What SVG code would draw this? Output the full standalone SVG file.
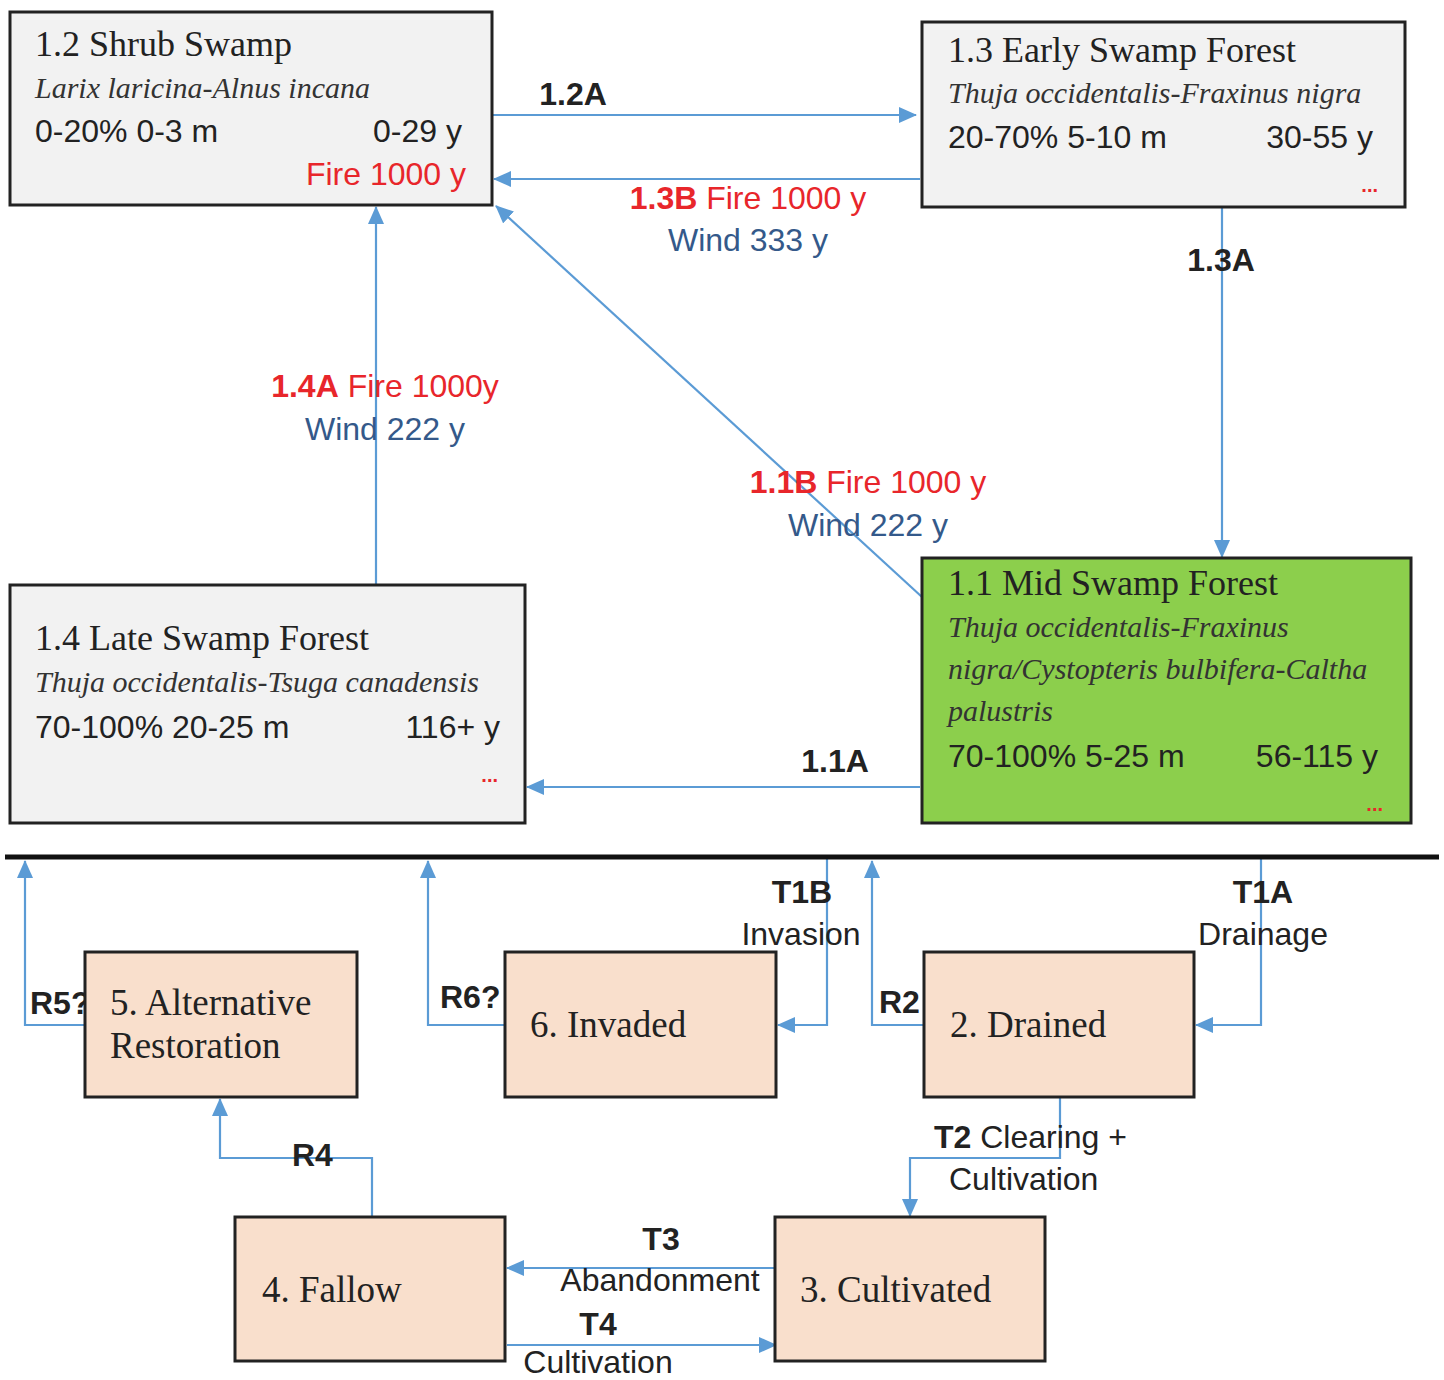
<svg xmlns="http://www.w3.org/2000/svg" width="1444" height="1380" viewBox="0 0 1444 1380">
<defs>
<marker id="ah" markerUnits="userSpaceOnUse" markerWidth="18" markerHeight="16" refX="17" refY="8" orient="auto">
<path d="M0,0 L18,8 L0,16 Z" fill="#5b9bd5"/>
</marker>
</defs>
<style>
.box{stroke:#222;stroke-width:3}
.gray{fill:#f2f2f2}
.green{fill:#8ccf4c}
.peach{fill:#f9dfcc}
.ttl{font-family:"Liberation Serif","Times New Roman",serif;font-size:36px;fill:#222}
.ttlb{font-family:"Liberation Serif","Times New Roman",serif;font-size:37px;fill:#222}
.it{font-family:"Liberation Serif","Times New Roman",serif;font-style:italic;font-size:30px;fill:#333}
.num{font-family:"Liberation Sans",Arial,sans-serif;font-size:32px;fill:#222}
.lbl{font-family:"Liberation Sans",Arial,sans-serif;font-size:32px;fill:#222}
.b{font-weight:bold}
.red{fill:#e8262b}
.blue{fill:#34598a}
.dots{font-family:"Liberation Sans",Arial,sans-serif;font-size:20px;font-weight:bold;fill:#e8262b}
.con{fill:none;stroke:#5b9bd5;stroke-width:2.2}
</style>
<rect width="1444" height="1380" fill="#ffffff"/>

<g id="connectors">
<line class="con" x1="492" y1="115" x2="916" y2="115" marker-end="url(#ah)"/>
<line class="con" x1="920" y1="179" x2="494" y2="179" marker-end="url(#ah)"/>
<line class="con" x1="922" y1="597" x2="496" y2="206" marker-end="url(#ah)"/>
<line class="con" x1="376" y1="585" x2="376" y2="207" marker-end="url(#ah)"/>
<line class="con" x1="1222" y1="208" x2="1222" y2="557" marker-end="url(#ah)"/>
<line class="con" x1="920" y1="787" x2="527" y2="787" marker-end="url(#ah)"/>
<polyline class="con" points="85,1025 25,1025 25,861" marker-end="url(#ah)"/>
<polyline class="con" points="505,1025 428,1025 428,861" marker-end="url(#ah)"/>
<polyline class="con" points="827,859 827,1025 778,1025" marker-end="url(#ah)"/>
<polyline class="con" points="924,1025 872,1025 872,861" marker-end="url(#ah)"/>
<polyline class="con" points="1261,859 1261,1025 1196,1025" marker-end="url(#ah)"/>
<polyline class="con" points="1060,1098 1060,1158 910,1158 910,1216" marker-end="url(#ah)"/>
<polyline class="con" points="372,1217 372,1158 220,1158 220,1099" marker-end="url(#ah)"/>
<line class="con" x1="775" y1="1268" x2="507" y2="1268" marker-end="url(#ah)"/>
<line class="con" x1="507" y1="1345" x2="776" y2="1345" marker-end="url(#ah)"/>
</g>

<line id="separator" x1="5" y1="857" x2="1439" y2="857" stroke="#111" stroke-width="5"/>

<g id="labels">
<text class="lbl b" x="573" y="105" text-anchor="middle">1.2A</text>
<text class="lbl red" x="748" y="209" text-anchor="middle"><tspan class="b">1.3B</tspan> Fire 1000 y</text>
<text class="lbl blue" x="748" y="251" text-anchor="middle">Wind 333 y</text>
<text class="lbl b" x="1221" y="271" text-anchor="middle">1.3A</text>
<text class="lbl red" x="385" y="397" text-anchor="middle"><tspan class="b">1.4A</tspan> Fire 1000y</text>
<text class="lbl blue" x="385" y="440" text-anchor="middle">Wind 222 y</text>
<text class="lbl red" x="868" y="493" text-anchor="middle"><tspan class="b">1.1B</tspan> Fire 1000 y</text>
<text class="lbl blue" x="868" y="536" text-anchor="middle">Wind 222 y</text>
<text class="lbl b" x="835" y="772" text-anchor="middle">1.1A</text>
<text class="lbl b" x="802" y="903" text-anchor="middle">T1B</text>
<text class="lbl" x="801" y="945" text-anchor="middle">Invasion</text>
<text class="lbl b" x="1263" y="903" text-anchor="middle">T1A</text>
<text class="lbl" x="1263" y="945" text-anchor="middle">Drainage</text>
<text class="lbl b" x="30" y="1014">R5?</text>
<text class="lbl b" x="440" y="1008">R6?</text>
<text class="lbl b" x="879" y="1013">R2</text>
<text class="lbl b" x="292" y="1166">R4</text>
<text class="lbl" x="934" y="1148"><tspan class="b">T2</tspan> Clearing +</text>
<text class="lbl" x="949" y="1190">Cultivation</text>
<text class="lbl b" x="661" y="1250" text-anchor="middle">T3</text>
<text class="lbl" x="660" y="1291" text-anchor="middle">Abandonment</text>
<text class="lbl b" x="598" y="1335" text-anchor="middle">T4</text>
<text class="lbl" x="598" y="1373" text-anchor="middle">Cultivation</text>
</g>

<g id="n12">
<rect class="box gray" x="10" y="12" width="482" height="193"/>
<text class="ttl" x="35" y="56">1.2 Shrub Swamp</text>
<text class="it" x="35" y="98">Larix laricina-Alnus incana</text>
<text class="num" x="35" y="142">0-20% 0-3 m</text>
<text class="num" x="462" y="142" text-anchor="end">0-29 y</text>
<text class="num red" x="466" y="185" text-anchor="end">Fire 1000 y</text>
</g>

<g id="n13">
<rect class="box gray" x="922" y="22" width="483" height="185"/>
<text class="ttl" x="948" y="62">1.3 Early Swamp Forest</text>
<text class="it" x="948" y="103">Thuja occidentalis-Fraxinus nigra</text>
<text class="num" x="948" y="148">20-70% 5-10 m</text>
<text class="num" x="1373" y="148" text-anchor="end">30-55 y</text>
<text class="dots" x="1378" y="192" text-anchor="end">...</text>
</g>

<g id="n11">
<rect class="box green" x="922" y="558" width="489" height="265"/>
<text class="ttl" x="948" y="595">1.1 Mid Swamp Forest</text>
<text class="it" x="948" y="637">Thuja occidentalis-Fraxinus</text>
<text class="it" x="948" y="679">nigra/Cystopteris bulbifera-Caltha</text>
<text class="it" x="948" y="721">palustris</text>
<text class="num" x="948" y="767">70-100% 5-25 m</text>
<text class="num" x="1378" y="767" text-anchor="end">56-115 y</text>
<text class="dots" x="1383" y="811" text-anchor="end">...</text>
</g>

<g id="n14">
<rect class="box gray" x="10" y="585" width="515" height="238"/>
<text class="ttl" x="35" y="650">1.4 Late Swamp Forest</text>
<text class="it" x="35" y="692">Thuja occidentalis-Tsuga canadensis</text>
<text class="num" x="35" y="738">70-100% 20-25 m</text>
<text class="num" x="500" y="738" text-anchor="end">116+ y</text>
<text class="dots" x="498" y="782" text-anchor="end">...</text>
</g>

<g id="n5">
<rect class="box peach" x="85" y="952" width="272" height="145"/>
<text class="ttlb" x="110" y="1015">5. Alternative</text>
<text class="ttlb" x="110" y="1058">Restoration</text>
</g>

<g id="n6">
<rect class="box peach" x="505" y="952" width="271" height="145"/>
<text class="ttlb" x="530" y="1037">6. Invaded</text>
</g>

<g id="n2">
<rect class="box peach" x="924" y="952" width="270" height="145"/>
<text class="ttlb" x="950" y="1037">2. Drained</text>
</g>

<g id="n4">
<rect class="box peach" x="235" y="1217" width="270" height="144"/>
<text class="ttlb" x="262" y="1302">4. Fallow</text>
</g>

<g id="n3">
<rect class="box peach" x="775" y="1217" width="270" height="144"/>
<text class="ttlb" x="800" y="1302">3. Cultivated</text>
</g>
</svg>
